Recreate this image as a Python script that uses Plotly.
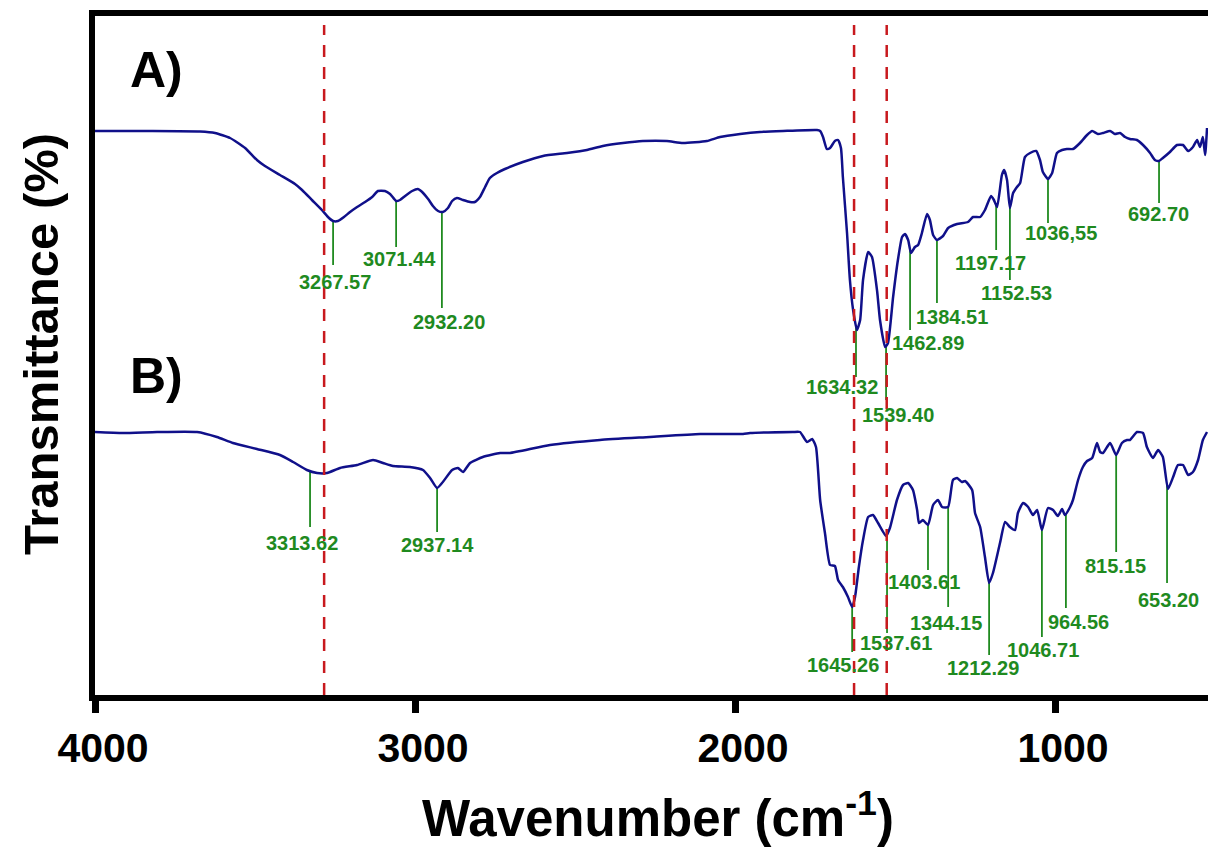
import numpy as np
import plotly.graph_objects as go

# ---------------- data ----------------
# Spectrum A: wavenumber (cm-1) and transmittance (arbitrary units, offset)
wn_A = [4000, 3984, 3828, 3672, 3625, 3578, 3531, 3494, 3469, 3422, 3375, 3353, 3322, 3291,
        3272, 3256, 3241, 3222, 3203, 3181, 3156, 3134, 3116, 3094, 3078, 3059, 3047, 3031,
        3009, 2991, 2981, 2959, 2944, 2928, 2913, 2897, 2884, 2869, 2850, 2828, 2813, 2797,
        2781, 2766, 2744, 2719, 2663, 2600, 2525, 2463, 2413, 2350, 2288, 2213, 2163, 2088,
        2047, 1984, 1922, 1850, 1744, 1734, 1725, 1713, 1703, 1688, 1678, 1669, 1663, 1650,
        1641, 1631, 1619, 1609, 1600, 1584, 1572, 1556, 1547, 1531, 1522, 1506, 1491, 1478,
        1469, 1459, 1450, 1438, 1428, 1416, 1400, 1391, 1381, 1369, 1350, 1334, 1306, 1272,
        1256, 1234, 1219, 1200, 1191, 1181, 1166, 1159, 1150, 1141, 1131, 1119, 1109, 1094,
        1078, 1059, 1047, 1038, 1022, 1009, 994, 978, 963, 944, 922, 900, 884, 866, 850, 828,
        813, 797, 781, 766, 744, 725, 703, 688, 675, 663, 641, 619, 600, 584, 569, 556, 547,
        538, 531, 525]
T_A = [564, 564, 564, 563.5, 562, 557, 547, 535, 529, 520, 511, 505, 495, 485,
       478, 474, 474, 478, 483, 488, 493, 498, 504, 504, 501, 494, 495, 499,
       504, 506, 504, 496, 489, 484, 483, 487, 494, 497, 495, 493, 493, 498,
       508, 517, 522, 526, 533, 539, 542, 545, 549, 552, 554, 554, 552, 554,
       558, 561, 563, 564, 565, 564, 558, 546, 547, 554, 555, 547, 518, 462,
       415, 385, 365, 375, 415, 443, 438, 404, 375, 348, 352, 398, 435, 458,
       461, 455, 442, 448, 450, 462, 481, 475, 460, 455, 459, 467, 471, 473,
       478, 478, 485, 499, 495, 488, 520, 525, 515, 487, 502, 508, 512, 538,
       542, 544, 535, 523, 516, 522, 542, 545, 546, 546, 552, 560, 564, 561, 562, 564,
       561, 562, 558, 556, 555, 550, 542, 535, 534, 537, 543, 550, 550, 544, 548, 555, 548,
       558, 540, 567]

# Spectrum B
wn_B = [4000, 3913, 3806, 3681, 3619, 3569, 3494, 3422, 3381, 3338, 3306, 3275, 3234, 3181,
        3131, 3100, 3069, 3016, 2975, 2953, 2931, 2913, 2884, 2866, 2850, 2828, 2788, 2734,
        2703, 2578, 2422, 2266, 2109, 1975, 1953, 1819, 1797, 1775, 1759, 1747, 1734, 1719,
        1703, 1688, 1678, 1663, 1647, 1634, 1625, 1613, 1600, 1584, 1569, 1553, 1528, 1516,
        1494, 1475, 1459, 1444, 1431, 1425, 1413, 1397, 1381, 1366, 1353, 1334, 1319, 1306,
        1291, 1281, 1259, 1250, 1234, 1219, 1206, 1194, 1172, 1156, 1141, 1125, 1116, 1100,
        1084, 1069, 1056, 1041, 1022, 1006, 991, 978, 969, 953, 944, 928, 913, 900, 884, 869,
        859, 850, 828, 809, 791, 775, 766, 744, 725, 713, 694, 678, 663, 647, 631, 616, 600,
        584, 569, 553, 538, 525]
T_B = [263, 262, 263, 263, 258, 252, 246, 240, 233, 225, 222, 222, 227, 230,
       235, 232, 229, 228, 225, 217, 207, 213, 225, 227, 223, 232, 238, 242,
       242, 250, 255, 258, 261, 261, 262, 263, 263, 253, 256, 248, 195, 162,
       130, 129, 115, 108, 98, 88, 98, 128, 155, 178, 180, 172, 159, 167,
       195, 210, 212, 205, 185, 172, 175, 170, 190, 195, 188, 188, 215, 217,
       213, 214, 205, 182, 168, 138, 112, 122, 152, 173, 168, 165, 182, 192,
       188, 180, 185, 165, 187, 185, 179, 186, 180, 188, 195, 215, 228, 234, 237, 252,
       243, 242, 252, 240, 252, 255, 255, 263, 262, 248, 237, 245, 238, 206, 218, 230, 230,
       220, 223, 235, 255, 263]

# Marked bands
peaks_A_wn = [3256, 3059, 2916, 1622, 1528, 1453, 1369, 1184, 1141, 1022, 675]
peaks_A_text = ["3267.57", "3071.44", "2932.20", "1634.32", "1539.40", "1462.89",
                "1384.51", "1197.17", "1152.53", "1036,55", "692.70"]
peaks_A_end = [430, 448, 387, 318, 295, 365, 392, 445, 415, 472, 492]
peaks_A_lab = [413, 436, 373, 308, 280, 352, 378, 432, 402, 462, 481]

peaks_B_wn = [3328, 2931, 1634, 1525, 1397, 1334, 1206, 1041, 966, 809, 650]
peaks_B_text = ["3313.62", "2937.14", "1645.26", "1537.61", "1403.61", "1344.15",
                "1212.29", "1046.71", "964.56", "815.15", "653.20"]
peaks_B_end = [168, 163, 43, 62, 125, 88, 40, 58, 87, 143, 112]
peaks_B_lab = [152, 150, 30, 52, 113, 72, 27, 45, 73, 129, 95]

# Reference (dashed) wavenumbers
ref_wn = [3284, 1628, 1526]

x_ticks = [4000, 3000, 2000, 1000]

# ---------------- styling / layout ----------------
FONT = "Liberation Sans, Arial, sans-serif"
CURVE = "#10108a"
GREEN = "#1f8a1f"
RED = "#c8191e"
label_dx_A = [2, 3, 7, -14, 12, 18, 15, -6, 7, 13, -1]
label_dx_B = [-8, 0, -9, 9, -4, -2, -6, 1, 13, -1, 1]

fig = go.Figure()
for wn, T in ((wn_A, T_A), (wn_B, T_B)):
    fig.add_trace(go.Scatter(x=wn, y=T, mode="lines",
                             line=dict(color=CURVE, width=2.5, shape="spline", smoothing=0.5),
                             showlegend=False, hoverinfo="skip"))

shapes = []
annotations = []
for w in ref_wn:
    shapes.append(dict(type="line", xref="x", yref="y", x0=w, x1=w, y0=0, y1=670,
                       line=dict(color=RED, width=2.5, dash="12px,10px"), layer="above"))


def add_peaks(wn, T, pw, ptxt, pend, plab, pdx):
    xs = np.array(wn[::-1], dtype=float)
    ys = np.array(T[::-1], dtype=float)
    for w, t, e, l, dx in zip(pw, ptxt, pend, plab, pdx):
        top = float(np.interp(w, xs, ys))
        shapes.append(dict(type="line", xref="x", yref="y", x0=w, x1=w, y0=top, y1=e,
                           line=dict(color=GREEN, width=1.8), layer="below"))
        annotations.append(dict(x=w, y=l, xref="x", yref="y", text=t, showarrow=False,
                                xanchor="center", yanchor="middle", xshift=dx,
                                font=dict(family=FONT, size=20, color=GREEN, weight="bold")))


add_peaks(wn_A, T_A, peaks_A_wn, peaks_A_text, peaks_A_end, peaks_A_lab, label_dx_A)
add_peaks(wn_B, T_B, peaks_B_wn, peaks_B_text, peaks_B_end, peaks_B_lab, label_dx_B)

for txt, yv in (("A)", 625), ("B)", 319)):
    annotations.append(dict(x=3897, y=yv, xref="x", yref="y", text=txt, showarrow=False,
                            xanchor="left", yanchor="middle",
                            font=dict(family=FONT, size=50, color="black", weight="bold")))

annotations.append(dict(x=0, y=0.517, xref="paper", yref="paper", xshift=-54,
                        text="Transmittance (%)", textangle=-90, showarrow=False,
                        xanchor="center", yanchor="middle",
                        font=dict(family=FONT, size=49, color="black", weight="bold")))
annotations.append(dict(x=0.506, y=-0.176, xref="paper", yref="paper",
                        text="Wavenumber (cm<sup>-1</sup>)", showarrow=False,
                        xanchor="center", yanchor="middle",
                        font=dict(family=FONT, size=51, color="black", weight="bold")))

fig.update_layout(
    width=1208, height=849,
    margin=dict(l=95, r=0, t=16, b=154),
    paper_bgcolor="white", plot_bgcolor="white",
    shapes=shapes, annotations=annotations,
    xaxis=dict(range=[4000, 522], tickvals=x_ticks, ticktext=[str(v) for v in x_ticks],
               showgrid=False, zeroline=False, showline=True, linecolor="black",
               linewidth=6, mirror=True, ticks="outside", ticklen=12, tickwidth=7,
               tickcolor="black", ticklabelshift=-8,
               tickfont=dict(family=FONT, size=41, color="black", weight="bold")),
    yaxis=dict(range=[0, 679], showgrid=False, zeroline=False, showline=True,
               linecolor="black", linewidth=6, showticklabels=False, ticks=""),
)

fig.write_html("out.html")
